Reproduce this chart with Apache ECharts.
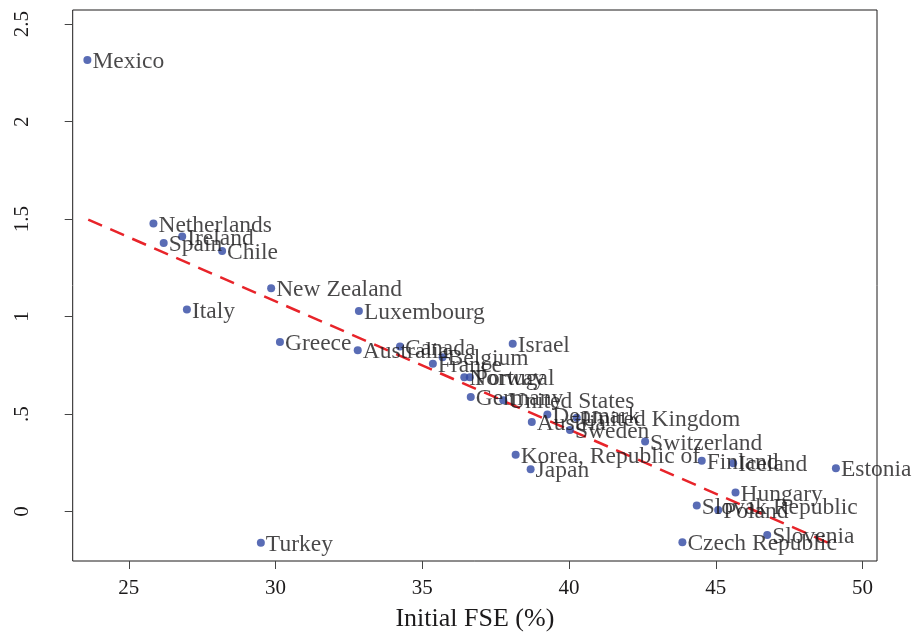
<!DOCTYPE html>
<html>
<head>
<meta charset="utf-8">
<script src="https://cdn.jsdelivr.net/npm/echarts@6/dist/echarts.min.js"></script>
<style>html,body{margin:0;padding:0;background:#fff}#c{width:912px;height:637px}</style>
</head>
<body>
<div id="c"></div>
<script>
var countries = ["Mexico","Netherlands","Ireland","Spain","Chile","New Zealand","Italy","Luxembourg","Greece","Australia","Canada","Belgium","France","Norway","Portugal","Israel","Germany","United States","Austria","Denmark","United Kingdom","Sweden","Korea, Republic of","Japan","Switzerland","Finland","Iceland","Estonia","Hungary","Slovak Republic","Poland","Slovenia","Czech Republic","Turkey"];
var fse = [23.59,25.84,26.82,26.19,28.18,29.85,26.98,32.84,30.15,32.80,34.24,35.69,35.36,36.43,36.62,38.08,36.65,37.76,38.73,39.26,40.26,40.03,38.18,38.69,42.59,44.52,45.59,49.09,45.67,44.35,45.08,46.75,43.86,29.50];
var yval = [2.316,1.478,1.411,1.378,1.337,1.146,1.037,1.029,0.869,0.827,0.847,0.792,0.758,0.689,0.689,0.860,0.587,0.571,0.459,0.498,0.481,0.418,0.291,0.217,0.359,0.260,0.248,0.222,0.097,0.031,0.008,-0.121,-0.158,-0.160];
var fitX = [23.62, 49.02];
var fitY = [1.498, -0.173];
var xTicks = [25,30,35,40,45,50];
var yTicks = [0,0.5,1,1.5,2,2.5];
var xTitle = "Initial FSE (%)";

var pts = countries.map(function(n,i){ return {name:n, value:[fse[i], yval[i]]}; });
var fit = fitX.map(function(x,i){ return [x, fitY[i]]; });
var ink = '#1C1A1B';
var font = 'Liberation Serif';

var chart = echarts.init(document.getElementById('c'), null, {renderer:'canvas'});
chart.setOption({
  animation:false,
  backgroundColor:'#ffffff',
  grid:{left:72.7, right:35, top:10, bottom:73, show:true, borderColor:ink, borderWidth:1, backgroundColor:'transparent'},
  xAxis:{
    type:'value', min:23.09, max:50.49,
    splitLine:{show:false},
    axisLine:{show:false, onZero:false},
    axisTick:{show:true, inside:false, length:8, customValues:xTicks, lineStyle:{color:'#444', width:1}},
    axisLabel:{customValues:xTicks, margin:17, color:ink, fontFamily:font, fontSize:21},
    name:xTitle, nameLocation:'middle', nameGap:45,
    nameTextStyle:{color:ink, fontFamily:font, fontSize:26}
  },
  yAxis:{
    type:'value', min:-0.254, max:2.573,
    splitLine:{show:false},
    axisLine:{show:false, onZero:false},
    axisTick:{show:true, inside:false, length:8, customValues:yTicks, lineStyle:{color:'#444', width:1}},
    axisLabel:{customValues:yTicks, rotate:90, margin:40, color:ink, fontFamily:font, fontSize:21,
      formatter:function(v){ return v===0.5 ? '.5' : String(v); }}
  },
  series:[
    {
      type:'line', data:fit, symbol:'none', silent:true, z:1,
      lineStyle:{color:'#E8242A', width:2.5, type:[15,9]}
    },
    {
      type:'scatter', data:pts, symbol:'circle', symbolSize:8, z:3,
      itemStyle:{color:'#2F47A2'},
      label:{show:true, position:'right', distance:1, offset:[0,2], formatter:'{b}', color:ink, fontFamily:font, fontSize:23.5}
    }
  ]
});
</script>
</body>
</html>
